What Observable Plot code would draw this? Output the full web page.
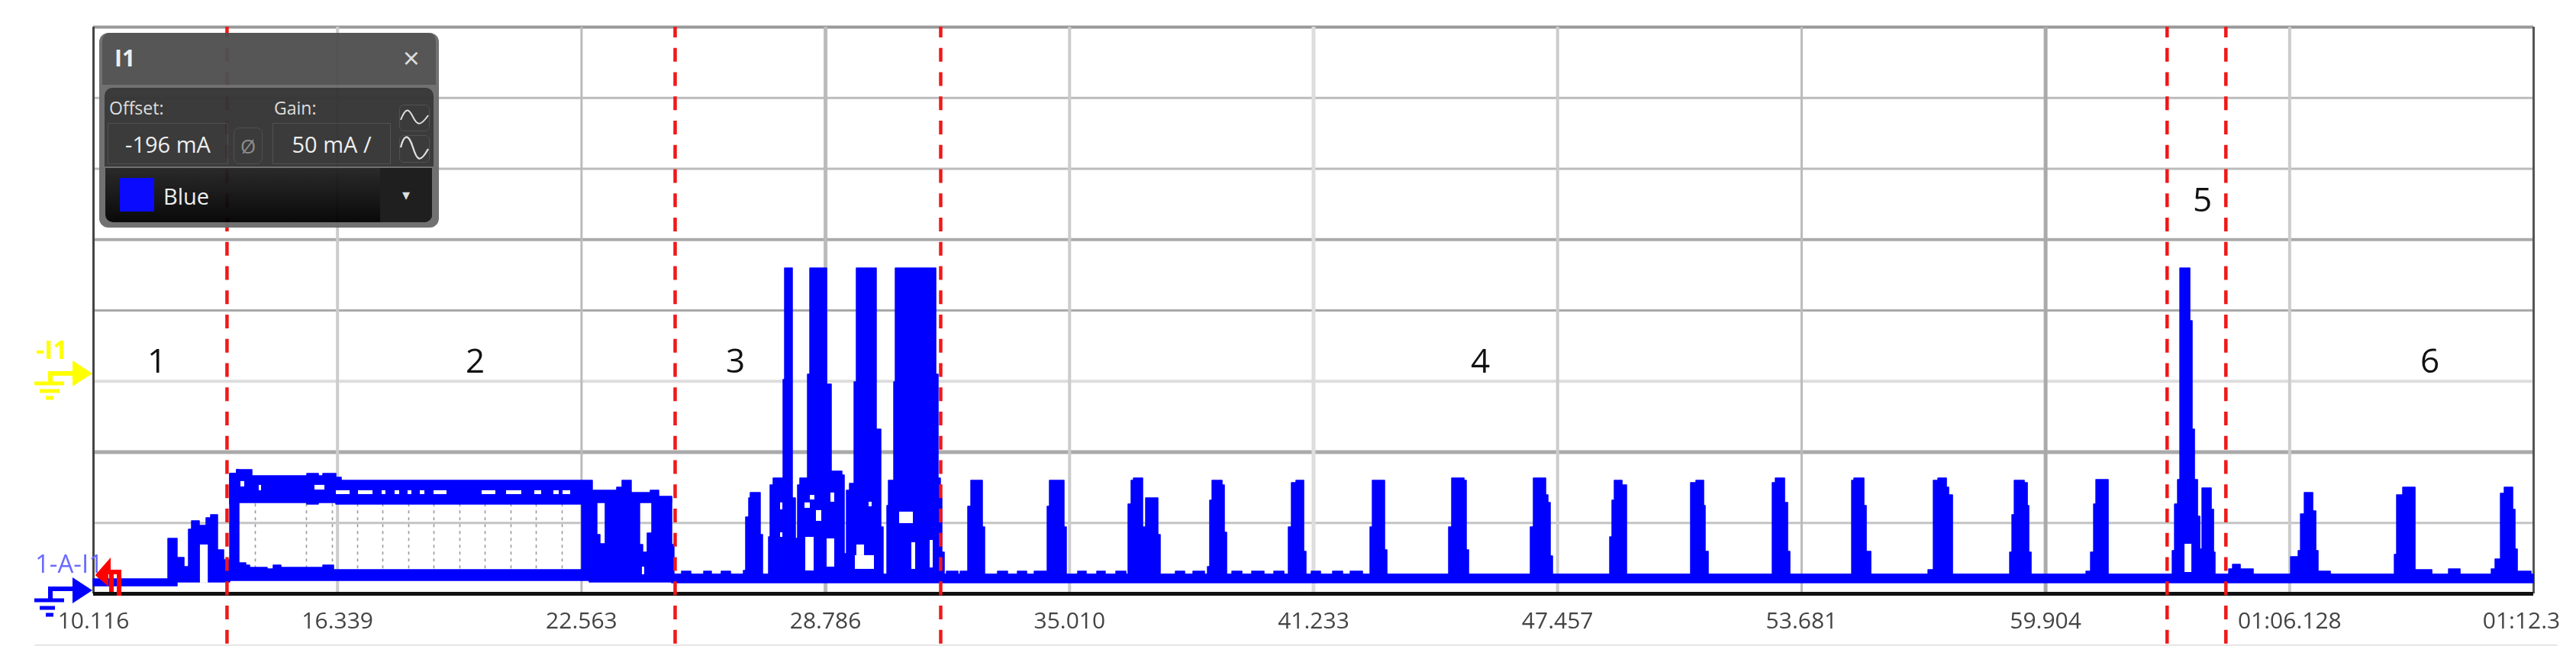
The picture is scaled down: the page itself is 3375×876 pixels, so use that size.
<!DOCTYPE html>
<html><head><meta charset="utf-8">
<script src="https://cdn.jsdelivr.net/npm/d3@7"></script>
<script src="https://cdn.jsdelivr.net/npm/@observablehq/plot@0.6"></script>
<style>
html,body{margin:0;padding:0;background:#fff;width:3375px;height:876px;overflow:hidden}
#stage{position:relative;width:3375px;height:876px;font-family:"Open Sans",sans-serif;filter:blur(.55px)}
#chart{position:absolute;left:0;top:0}
#icons{position:absolute;left:0;top:0;pointer-events:none}
#scope{position:absolute;left:130px;top:43px;width:445px;height:255px;border-radius:12px;background:#6c6c6c;opacity:.96;color:#eee}
#scope div{position:absolute;box-sizing:border-box}
#bar{left:4px;top:0;width:437px;height:68px;background:#505050;border-radius:10px 10px 0 0}
#mid{left:7px;top:72px;width:431px;height:103px;background:#333;border-radius:10px 10px 0 0}
#low{left:8px;top:177px;width:428px;height:71px;background:linear-gradient(#222,#000);border-radius:0 0 10px 10px}
.box{border:1.5px solid #4a4a4a;display:flex;align-items:center;justify-content:center;font-size:29px;white-space:nowrap;color:#eee}
.lab{font-size:23px;color:#ddd;white-space:nowrap}
</style></head><body>
<div id="stage">
<div id="chart"></div>
<svg id="icons" width="3375" height="876"></svg>
<div id="scope">
 <div id="bar"></div><div id="mid"></div><div id="low"></div>
 <div style="left:20px;top:12px;font-size:30px;font-weight:700;color:#eee">I1</div>
 <div style="left:398px;top:6px;font-size:38px;color:#ddd">×</div>
 <div class="lab" style="left:13px;top:82px">Offset:</div>
 <div class="lab" style="left:229px;top:82px">Gain:</div>
 <div class="box" style="left:11px;top:118px;width:158px;height:54px">-196 mA</div>
 <div class="box" style="left:176px;top:124px;width:38px;height:48px;border-radius:8px;color:#888;font-size:26px">Ø</div>
 <div class="box" style="left:227px;top:118px;width:155px;height:54px">50 mA /</div>
 <div class="box" style="left:393px;top:94px;width:40px;height:35px;border-radius:6px"></div>
 <div class="box" style="left:393px;top:134px;width:40px;height:36px;border-radius:6px"></div>
 <div style="left:27px;top:190px;width:45px;height:44px;background:#0000ff"></div>
 <div style="left:84px;top:194px;font-size:29px;color:#eee">Blue</div>
 <div style="left:368px;top:177px;width:68px;height:71px;background:#161616;border-radius:0 0 10px 0;color:#ddd;font-size:20px;text-align:center;line-height:70px">▾</div>
</div>
</div>
<script>
// Time axis, seconds (labels as printed on the scope)
const tickT = [10.116,16.339,22.563,28.786,35.010,41.233,47.457,53.681,59.904,66.128,72.351];
const tickLabels = ["10.116","16.339","22.563","28.786","35.010","41.233","47.457","53.681","59.904","01:06.128","01:12.3"];
const tickStroke = ["#444","#ccc","#bbb","#bbb","#ccc","#ddd","#ccc","#bbb","#aaa","#ccc","#555"];
const tickWidth = [3,4,3,5,4,5,4,3,5,4,3];
// Current axis: 50 mA per division
const yBottom = -2.7, yTop = 397.3;
const gridY = [397.3,347.3,297.3,247.3,197.3,147.3,97.3,47.3];
const gridStroke = ["#999","#bbb","#bbb","#aaa","#aaa","#ddd","#aaa","#c4c4c4"];
const gridWidth = [4,3,3,4,3,4,5,3];
// Phase boundaries and phase numbers
const phaseT = [13.521,24.950,31.724,63.003,64.502];
const labelT = [11.732,19.850,26.488,45.488,63.903,69.705];
const labelI = [161.2,161.2,161.2,161.2,274.9,161.2];
const labelText = ["1","2","3","4","5","6"];
// Resting band of the signal
const floorT  = [10.116,12.257,13.601,22.769,24.872,72.351];
const floorLo = [2.7,5.4,6.5,5.4,4.9,4.9];
const floorHi = [7.5,10.8,10.8,10.8,10.8,10.8];
const bandCenter = 8;
// Top envelope of the signal, mA
const peakT = [
 12.024,12.257,12.433,12.549,12.627,12.822,12.997,13.114,13.289,13.445,
 13.601,13.776,13.834,14.009,14.107,14.554,14.710,14.905,15.976,16.248,
 22.575,22.964,23.042,23.178,24.054,24.132,24.249,24.366,24.872,24.930,
 25.125,25.359,25.690,25.884,26.137,26.371,
 26.702,26.760,26.838,26.877,27.130,27.189,27.344,27.383,27.461,27.714,
 27.753,27.948,28.026,28.084,28.142,28.337,28.396,28.824,28.882,28.941,
 29.213,29.272,29.330,29.408,29.525,29.583,30.089,30.206,30.264,30.362,
 30.401,30.537,30.576,31.608,31.666,31.724,31.763,31.822,
 31.880,32.172,32.231,
 32.425,32.503,32.795,32.853,33.184,33.437,33.691,33.924,34.119,
 34.450,34.508,34.878,34.936,35.228,35.443,35.715,35.929,36.202,36.455,
 36.513,36.591,36.650,36.883,36.961,37.272,37.331,37.720,37.954,38.168,38.460,
 38.538,38.596,38.655,38.908,38.966,39.025,39.161,39.414,39.667,39.978,40.231,40.485,
 40.601,40.679,40.796,40.991,41.049,41.185,41.419,41.730,41.983,42.178,42.490,
 42.684,42.743,43.054,43.113,
 44.689,44.767,45.079,45.137,45.196,
 46.772,46.850,47.162,47.220,47.279,47.337,
 48.797,48.855,48.914,49.109,49.225,
 50.860,50.997,51.191,51.230,51.308,
 52.943,53.021,53.255,53.333,53.391,
 54.968,55.026,55.279,55.338,55.455,
 56.915,57.051,57.168,57.382,57.440,57.538,
 58.998,59.056,59.115,59.368,59.446,59.484,59.543,
 60.945,61.061,61.139,61.197,61.509,
 63.144,63.203,63.280,63.339,63.592,63.650,63.709,63.787,63.845,63.903,64.137,64.196,64.234,
 64.585,64.682,64.877,65.208,
 66.162,66.356,66.415,66.512,66.726,66.804,66.862,67.174,
 68.809,68.867,69.023,69.335,69.763,70.191,70.483,
 71.281,71.378,71.515,71.612,71.826,71.885,71.943,72.293,72.351];
const peakHi = [
 36.1,22.6,16.2,42.6,48.5,45.3,50.7,52.8,28.0,21.0,
 81.9,84.6,18.9,17.3,15.6,14.6,17.3,15.6,17.3,14.0,
 65.8,38.8,32.3,65.8,31.8,26.4,39.9,65.8,31.8,10.8,
 12.9,10.8,12.9,10.8,12.9,10.8,
 13.5,51.2,64.7,68.5,38.8,10.8,37.2,73.9,78.7,148.3,
 227,64.7,36.1,73.9,78.7,152,227,145,145,83.6,
 80.9,25.3,70.1,74.9,146.6,227,113.2,44.2,10.8,59.3,
 77.1,146.6,227,152,78.7,64.7,26.4,10.8,
 12.9,10.8,12.9,
 58.8,77.1,44.2,10.8,12.9,10.8,12.9,10.8,12.9,
 58.8,77.1,44.2,10.8,12.9,10.8,12.9,10.8,12.9,10.8,
 60.4,77.1,78.7,44.2,64.7,38.8,10.8,12.9,10.8,12.9,10.8,
 16.2,63.1,77.1,73.9,40.4,10.8,12.9,10.8,12.9,10.8,12.9,10.8,
 44.2,75.5,77.1,27.0,10.8,12.9,10.8,12.9,10.8,12.9,10.8,
 44.2,77.1,28.0,10.8,
 44.2,78.7,77.1,28.0,10.8,
 44.2,78.7,66.8,61.5,23.7,10.8,
 37.2,63.1,77.1,73.9,10.8,
 75.5,77.1,59.3,27.0,10.8,
 75.5,78.7,61.5,27.0,10.8,
 77.1,78.7,59.3,27.0,10.8,
 14.0,77.1,78.7,72.2,66.8,10.8,
 26.4,52.8,77.1,75.5,59.3,26.4,10.8,
 12.9,26.4,60.4,77.6,10.8,
 27.5,60.4,77.6,227,189.8,113.2,77.6,51.8,28.6,71.7,56.6,26.4,10.8,
 14.6,17.8,14.6,10.8,
 23.2,27.5,53.4,68.5,55.5,27.5,12.9,10.8,
 24.8,66.8,72.2,14.0,10.8,14.6,10.8,
 14.6,21.6,67.9,72.2,56.6,28.6,12.9,10.8,10.8];
// Upper rail of the high-current stretch in phase 2
const railT  = [13.601,13.776,14.165,15.567,15.859,15.976,16.307,16.443,22.847,23.470,23.607,23.840,24.327,24.541,24.872];
const railHi = [81.9,84.6,80.3,81.9,80.3,81.9,79.2,77.1,70.1,72.2,77.1,68.5,70.1,64.7,64.7];
const railLo = [60.4,61.5,61.5,60.4,61.5,61.5,60.4,60.4,61.5,61.5,61.5,61.5,61.5,61.5,61.5];
// Faint sampled pulses between the rails
const dotT = [14.243,15.547,16.209,16.852,17.494,18.156,18.798,19.460,20.103,20.764,21.407,22.069];
// Places where the dense trace leaves white showing
const gapT1 = [12.84,13.873,14.340,15.761,16.307,16.871,17.475,17.805,18.136,18.448,18.798,20.025,20.648,21.368,21.855,22.088,24.113,
 27.636,27.636,28.396,28.259,28.921,28.551,29.895,28.279,28.824,29.544,29.583,30.673,30.985,31.452,63.456];
const gapT2 = [13.04,13.970,14.399,16.015,16.657,17.241,17.572,17.922,18.234,18.565,19.129,20.375,21.037,21.543,21.991,22.283,24.171,
 27.695,27.695,28.512,28.396,29.018,28.687,29.972,28.493,29.018,30.031,29.778,31.024,31.082,31.530,63.631];
const gapLo = [4.9,72.8,70.1,70.6,67.4,67.4,67.4,67.4,67.4,67.4,67.4,67.4,67.4,67.4,67.4,67.4,10.8,
 56.6,37.2,63.6,57.7,62,48.5,58.8,13.5,16.2,14.6,24.3,46.9,14.6,15.6,12.4];
const gapHi = [31.8,76.6,73.9,73.9,70.1,70.1,70.1,70.1,70.1,70.1,70.1,70.1,70.1,70.1,70.1,70.1,16.2,
 61.5,40.4,66.8,61.5,68.5,56.1,62,37.2,36.1,24.3,31.8,55,33.4,35,32.3];
const blue = "#0000ff";

const plot = Plot.plot({
  width:3375, height:876,
  marginLeft:122, marginRight:56, marginTop:35, marginBottom:99,
  style:{background:"transparent",fontFamily:"'Open Sans',sans-serif"},
  x:{domain:[10.116,72.351],axis:null},
  y:{domain:[yBottom,yTop],axis:null},
  marks:[
    Plot.ruleY([-39],{x1:8.62,x2:72.97,stroke:"#ddd",strokeWidth:1.5}),
    Plot.ruleY(gridY,{y:d=>d,stroke:gridStroke,strokeWidth:gridWidth}),
    Plot.ruleX(tickT,{x:d=>d,y1:yBottom,y2:yTop,stroke:tickStroke,strokeWidth:tickWidth}),
    Plot.ruleX(dotT,{x:d=>d,y1:15,y2:61,stroke:"#999",strokeWidth:1.6,strokeDasharray:"4,5"}),
    Plot.area(floorT,{x1:floorT,y1:floorLo,y2:floorHi,curve:"step-after",fill:blue,stroke:blue,strokeWidth:1.5}),
    Plot.area(peakT,{x1:peakT,y1:()=>bandCenter,y2:peakHi,curve:"step-after",fill:blue,stroke:blue,strokeWidth:1.5}),
    Plot.area(railT,{x1:railT,y1:railLo,y2:railHi,curve:"step-after",fill:blue,stroke:blue,strokeWidth:1.5}),
    Plot.rect(gapT1,{x1:gapT1,x2:gapT2,y1:gapLo,y2:gapHi,fill:"#fff"}),
    Plot.ruleY([yBottom],{stroke:"#111",strokeWidth:5}),
    Plot.ruleX(phaseT,{x:d=>d,y1:yTop,y2:-38.3,stroke:"#f01818",strokeWidth:4.5,strokeDasharray:"18,13.75",strokeDashoffset:4}),
    Plot.text(labelText,{x:labelT,y:labelI,text:d=>d,fontSize:44,fill:"#111"}),
    Plot.text(tickLabels.slice(0,-1),{x:tickT.slice(0,-1),y:()=>yBottom,text:d=>d,dy:36,fontSize:30,fill:"#444"}),
    Plot.text(tickLabels.slice(-1),{x:tickT.slice(-1),y:()=>yBottom,text:d=>d,dy:36,dx:-16,fontSize:30,fill:"#444"}),
  ]
});
document.getElementById("chart").appendChild(plot);

// Channel markers in the left margin and the wave buttons of the panel
const ns="http://www.w3.org/2000/svg", icons=document.getElementById("icons");
const shapes=[
 ["path","M45 502H84 M52 512H78 M60 521H70","#ffff00",5,"none"],
 ["path","M66 500V489H98","#ffff00",6,"none"],
 ["path","M95 472L121 489L95 506Z","#ffff00",0,"#ffff00"],
 ["path","M45 786H84 M52 796H72 M60 805H70","#0000ff",5,"none"],
 ["path","M66 784V771H98","#0000ff",6,"none"],
 ["path","M95 756L121 773L95 790Z","#0000ff",0,"#0000ff"],
 ["path","M127 755L142 738V749H156V780 M146 749V775","#ff0000",6,"none"],
 ["path","M127 755L142 738V768Z","#ff0000",0,"#ff0000"],
];
for(const [tag,d,stroke,w,fill] of shapes){const e=document.createElementNS(ns,tag);e.setAttribute("d",d);e.setAttribute("stroke",stroke);e.setAttribute("stroke-width",w);e.setAttribute("fill",fill);icons.appendChild(e);}
const marks=[["-I1",47,470,"#ffff00",700,34],["1-A-I1",46,750,"#6a6aff",400,33]];
for(const [s,x,y,c,w,f] of marks){const t=document.createElementNS(ns,"text");t.textContent=s;t.setAttribute("x",x);t.setAttribute("y",y);t.setAttribute("fill",c);t.setAttribute("font-weight",w);t.setAttribute("font-size",f);t.setAttribute("font-family","'Open Sans',sans-serif");icons.appendChild(t);}
const scope=document.getElementById("scope");
const wave=document.createElementNS(ns,"svg");wave.setAttribute("width",445);wave.setAttribute("height",255);wave.style.position="absolute";wave.style.left=0;wave.style.top=0;
wave.innerHTML='<path d="M395 114C402 96 406 100 411 110S420 124 431 108" stroke="#ddd" stroke-width="2" fill="none"/><path d="M395 150C400 130 406 134 411 150S420 172 431 152" stroke="#ddd" stroke-width="2.4" fill="none"/>';
scope.appendChild(wave);
</script>
</body></html>
